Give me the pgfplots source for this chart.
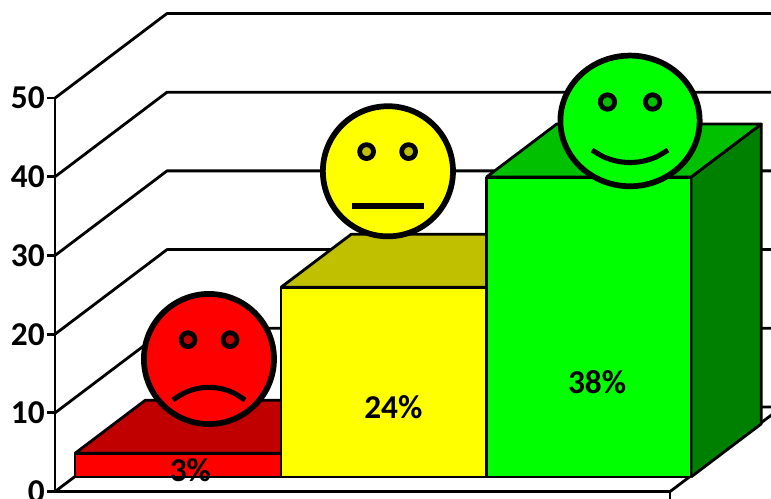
\documentclass[border=0pt]{standalone}
\usepackage{fontspec}
\setmainfont{Carlito}
\usepackage{pgfplots}
\pgfplotsset{compat=1.18}

\definecolor{redfront}{HTML}{FF0000}
\definecolor{redtop}{HTML}{C00000}
\definecolor{yelfront}{HTML}{FFFF00}
\definecolor{yeltop}{HTML}{C0C000}
\definecolor{grnfront}{HTML}{00FF00}
\definecolor{grntop}{HTML}{00C000}
\definecolor{grnside}{HTML}{008000}

\newcommand{\labfont}{\fontsize{25}{27}\selectfont\bfseries}

% one box: x from #1 to #2, height #3, colours front/top/side
\newcommand{\barbox}[6]{
  \addplot3[draw=black,fill=#6] coordinates {(#2,0.173,0) (#2,0.8,0) (#2,0.8,#3) (#2,0.173,#3) (#2,0.173,0)};
  \addplot3[draw=black,fill=#5] coordinates {(#1,0.173,#3) (#2,0.173,#3) (#2,0.8,#3) (#1,0.8,#3) (#1,0.173,#3)};
  \addplot3[draw=black,fill=#4] coordinates {(#1,0.173,0) (#2,0.173,0) (#2,0.173,#3) (#1,0.173,#3) (#1,0.173,0)};
}

\begin{document}
\begin{tikzpicture}
\useasboundingbox (0,0) rectangle (578.25pt,374.25pt);
\begin{axis}[
  at={(41.25pt,5.55pt)}, anchor=origin,
  x={(153.75pt,0pt)}, y={(84pt,63.45pt)}, z={(0pt,5.9025pt)},
  xmin=0, xmax=3, ymin=0, ymax=1, zmin=0, zmax=50,
  clip=false, clip mode=individual,
  hide x axis, hide y axis,
  axis z line*=left,
  ztick={0,10,20,30,40,50},
  major tick length=0pt,
  axis line style={black,line width=2.1pt},
  z tick label style={font=\labfont,anchor=east,xshift=-4.2pt,yshift=0pt},
  /pgf/number format/assume math mode=true,
  every axis plot/.append style={no marks,line width=2.1pt,line join=round},
]
% back wall and side wall lines
\addplot3[black] coordinates {(0,0,0) (0,1,0) (3,1,0)};
\addplot3[black] coordinates {(0,0,10) (0,1,10) (3,1,10)};
\addplot3[black] coordinates {(0,0,20) (0,1,20) (3,1,20)};
\addplot3[black] coordinates {(0,0,30) (0,1,30) (3,1,30)};
\addplot3[black] coordinates {(0,0,40) (0,1,40) (3,1,40)};
\addplot3[black] coordinates {(0,0,50) (0,1,50) (3,1,50)};
% tick marks on the value axis
\addplot3[black] coordinates {(-0.039,0,0) (0,0,0)};
\addplot3[black] coordinates {(-0.039,0,10) (0,0,10)};
\addplot3[black] coordinates {(-0.039,0,20) (0,0,20)};
\addplot3[black] coordinates {(-0.039,0,30) (0,0,30)};
\addplot3[black] coordinates {(-0.039,0,40) (0,0,40)};
\addplot3[black] coordinates {(-0.039,0,50) (0,0,50)};
% floor
\addplot3[black] coordinates {(0,0,0) (3,0,0) (3,1,0)};
\addplot3[black] coordinates {(3,0,0) (3,0,-2)};

\barbox{0.003}{1.008}{3}{redfront}{redtop}{redtop}
\barbox{1.008}{2.01}{24.1}{yelfront}{yeltop}{yeltop}
\barbox{2.01}{3.008}{38.1}{grnfront}{grntop}{grnside}

\node[font=\labfont] at (axis cs:0.566,0.173,0.9) {3\%};
\node[font=\labfont] at (axis cs:1.556,0.173,8.9) {24\%};
\node[font=\labfont] at (axis cs:2.55,0.173,12.07) {38\%};

% faces
\addplot3[only marks,mark=*,mark size=48.8pt,mark options={draw=black,fill=redfront,line width=4.3pt}] coordinates {(0.751,0,16.85)};
\addplot3[only marks,mark=*,mark size=5.2pt,mark options={draw=black,fill=redtop,line width=3.6pt}] coordinates {(0.649,0,19.3) (0.854,0,19.3)};
\addplot3[smooth,line width=3.8pt] coordinates {(0.575,0,11.64) (0.634,0,12.58) (0.6925,0,13.09) (0.751,0,13.25) (0.8095,0,13.09) (0.868,0,12.58) (0.927,0,11.64)};

\addplot3[only marks,mark=*,mark size=48.8pt,mark options={draw=black,fill=yelfront,line width=4.3pt}] coordinates {(1.624,0,40.7)};
\addplot3[only marks,mark=*,mark size=5.2pt,mark options={draw=black,fill=yeltop,line width=3.6pt}] coordinates {(1.52,0,43.2) (1.725,0,43.2)};
\addplot3[line width=4pt] coordinates {(1.449,0,36.3) (1.8,0,36.3)};

\addplot3[only marks,mark=*,mark size=49pt,mark options={xscale=1.066,draw=black,fill=grnfront,line width=4.3pt}] coordinates {(2.805,0,47.1)};
\addplot3[only marks,mark=*,mark size=5.4pt,mark options={draw=black,fill=grntop,line width=3.6pt}] coordinates {(2.695,0,49.5) (2.915,0,49.5)};
\addplot3[smooth,line width=3.8pt] coordinates {(2.62,0,43.4) (2.678,0,42.51) (2.742,0,41.98) (2.805,0,41.81) (2.868,0,41.98) (2.932,0,42.51) (2.99,0,43.4)};
\end{axis}
\end{tikzpicture}
\end{document}
